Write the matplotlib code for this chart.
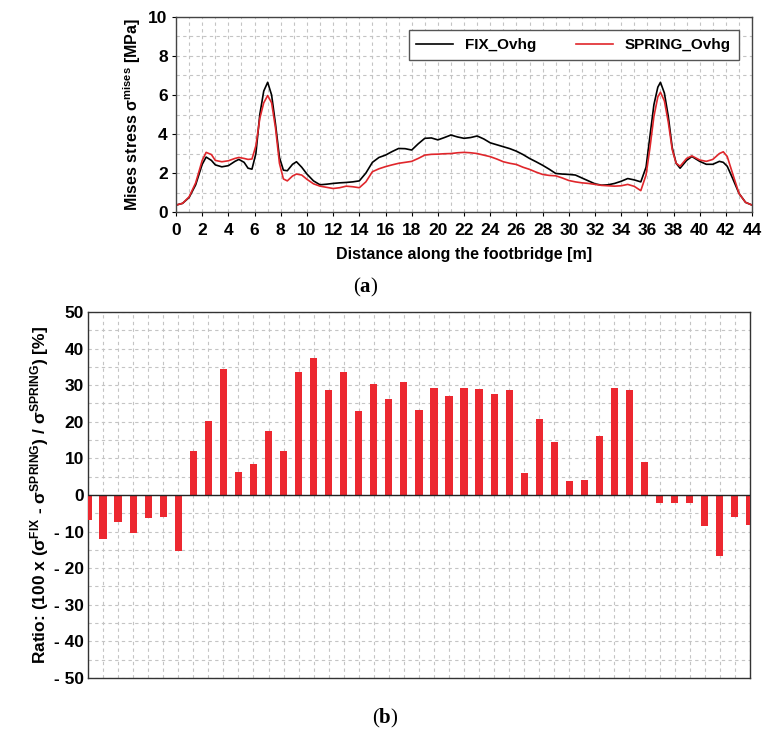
import numpy as np
import matplotlib
matplotlib.use("Agg")
import matplotlib.pyplot as plt
from matplotlib.ticker import MultipleLocator, FuncFormatter
from matplotlib.offsetbox import TextArea, HPacker, AnnotationBbox

plt.rcParams['font.family'] = ['Liberation Sans', 'DejaVu Sans']
plt.rcParams['font.weight'] = 'bold'
plt.rcParams['axes.labelweight'] = 'bold'
plt.rcParams['mathtext.fontset'] = 'custom'
plt.rcParams['mathtext.rm'] = 'Liberation Sans:bold'
plt.rcParams['mathtext.bf'] = 'Liberation Sans:bold'
plt.rcParams['mathtext.default'] = 'bf'

# von Mises stress along the deck [m] / [MPa]
distance = [0, 0.5, 1, 1.5, 2, 2.3, 2.7, 3, 3.5, 4, 4.5, 4.8, 5.2, 5.5, 5.8, 6.1,
            6.4, 6.7, 7.0, 7.3, 7.6, 7.9, 8.2, 8.5, 8.9, 9.2, 9.6, 10, 10.5, 11,
            11.5, 12, 12.5, 13, 13.5, 14, 14.5, 15, 15.5, 16, 16.5, 17, 17.5, 18,
            18.5, 19, 19.5, 20, 20.5, 21, 21.5, 22, 22.5, 23, 23.5, 24, 24.5, 25,
            25.5, 26, 26.5, 27, 27.5, 28, 28.5, 29, 29.5, 30, 30.5, 31, 31.5, 32,
            32.5, 33, 33.5, 34, 34.5, 35, 35.5, 35.9, 36.2, 36.5, 36.8, 37.0, 37.3,
            37.6, 37.9, 38.2, 38.5, 39, 39.4, 40, 40.5, 41, 41.5, 41.8, 42.1, 42.5,
            43, 43.5, 44]

fix_ovhg = [0.36, 0.45, 0.75, 1.4, 2.45, 2.82, 2.65, 2.42, 2.32, 2.38, 2.6, 2.7,
            2.55, 2.25, 2.2, 3.0, 5.0, 6.2, 6.65, 6.0, 4.5, 2.8, 2.15, 2.12, 2.45,
            2.58, 2.3, 1.95, 1.6, 1.4, 1.43, 1.47, 1.5, 1.52, 1.55, 1.6, 2.0, 2.55,
            2.8, 2.92, 3.1, 3.26, 3.25, 3.18, 3.5, 3.78, 3.8, 3.7, 3.82, 3.95, 3.85,
            3.78, 3.82, 3.9, 3.75, 3.55, 3.45, 3.35, 3.25, 3.12, 2.95, 2.75, 2.58,
            2.4, 2.2, 1.98, 1.95, 1.93, 1.9, 1.75, 1.6, 1.45, 1.38, 1.4, 1.47, 1.58,
            1.72, 1.65, 1.55, 2.3, 3.9, 5.5, 6.4, 6.65, 6.1, 4.9, 3.3, 2.5, 2.25,
            2.65, 2.85, 2.6, 2.45, 2.45, 2.6, 2.55, 2.35, 1.75, 0.96, 0.5, 0.36]

spring_ovhg = [0.36, 0.45, 0.78, 1.5, 2.65, 3.06, 2.95, 2.65, 2.58, 2.63, 2.75, 2.8,
               2.75, 2.7, 2.72, 3.4, 4.8, 5.6, 5.97, 5.6, 4.3, 2.5, 1.7, 1.6, 1.85,
               1.95, 1.9, 1.68, 1.45, 1.33, 1.27, 1.21, 1.25, 1.33, 1.3, 1.25, 1.55,
               2.07, 2.22, 2.33, 2.42, 2.5, 2.55, 2.6, 2.75, 2.92, 2.96, 2.97, 2.99,
               3.0, 3.04, 3.06, 3.04, 3.0, 2.92, 2.84, 2.72, 2.58, 2.5, 2.44, 2.3,
               2.19, 2.05, 1.93, 1.88, 1.86, 1.75, 1.62, 1.55, 1.5, 1.47, 1.42, 1.37,
               1.35, 1.33, 1.35, 1.42, 1.32, 1.1, 1.9, 3.3, 4.9, 5.9, 6.14, 5.7, 4.6,
               3.2, 2.5, 2.35, 2.75, 2.88, 2.67, 2.6, 2.7, 3.0, 3.09, 2.85, 2.0, 0.96,
               0.5, 0.36]

# stress ratio per metre station [%]
stations = np.arange(45)
ratio = [-6.8, -12.0, -7.5, -10.4, -6.3, -6.1, -15.2, 11.9, 20.2, 34.4, 6.3, 8.5,
         17.5, 12.0, 33.5, 37.3, 28.7, 33.5, 23.0, 30.3, 26.1, 30.9, 23.3, 29.3,
         27.1, 29.3, 28.9, 27.6, 28.7, 6.1, 20.7, 14.5, 3.9, 4.1, 16.2, 29.2, 28.7,
         9.1, -2.1, -2.1, -2.1, -8.4, -16.8, -6.1, -8.1]

grid_kw = dict(color='#c4c4c4', linestyle=(0, (3, 3)), linewidth=0.8)

fig = plt.figure(figsize=(7.62, 7.34), dpi=100)

# (a) stress curves
ax1 = fig.add_axes([0.231, 0.711, 0.756, 0.266])
ax1.plot(distance, fix_ovhg, color='black', lw=1.2, label='FIX_Ovhg')
ax1.plot(distance, spring_ovhg, color='#e0262b', lw=1.2, label='SPRING_Ovhg')
ax1.set_xlim(0, 44)
ax1.set_ylim(0, 10)
ax1.xaxis.set_major_locator(MultipleLocator(2))
ax1.xaxis.set_minor_locator(MultipleLocator(1))
ax1.yaxis.set_major_locator(MultipleLocator(2))
ax1.yaxis.set_minor_locator(MultipleLocator(1))
ax1.grid(True, which='both', **grid_kw)
ax1.tick_params(which='major', direction='out', length=3, width=0.8,
                labelsize=12.5, pad=3)
ax1.tick_params(axis='x', pad=5)
ax1.tick_params(which='minor', length=0)
for s in ax1.spines.values():
    s.set_color('#444444')
    s.set_linewidth(1.0)
ax1.set_xlabel('Distance along the footbridge [m]', fontsize=11.5, labelpad=6)
ax1.set_ylabel(r'Mises stress σ$^{mises}$ [MPa]', fontsize=11.5, labelpad=4)
ax1.legend(loc='upper right', bbox_to_anchor=(0.99, 0.97), ncol=2,
           fancybox=False, edgecolor='#555555', framealpha=1,
           prop={'size': 11, 'weight': 'bold'}, handlelength=2.4,
           columnspacing=2.6, borderpad=0.5)

# (b) ratio bars
ax2 = fig.add_axes([0.1155, 0.0763, 0.8685, 0.4987])
ax2.bar(stations, ratio, width=0.48, color='#ec2830', zorder=3)
ax2.axhline(0, color='#222222', lw=1.0, zorder=4)
ax2.set_xlim(0, 44)
ax2.set_ylim(-50, 50)
ax2.set_xticks(stations)
ax2.set_xticklabels([])
ax2.yaxis.set_major_locator(MultipleLocator(10))
ax2.yaxis.set_minor_locator(MultipleLocator(5))
ax2.yaxis.set_major_formatter(FuncFormatter(lambda v, p: f'{int(v)}'.replace('-', '- ')))
ax2.grid(True, which='both', zorder=0, **grid_kw)
ax2.tick_params(which='both', length=0, labelsize=12.5, pad=3)
for s in ax2.spines.values():
    s.set_color('#333333')
    s.set_linewidth(1.0)
ax2.set_ylabel(r'Ratio: (100 x (σ$^{FIX}$ - σ$^{SPRING}$) / σ$^{SPRING}$) [%]',
               fontsize=12.5, labelpad=2)


def caption(letter, x, y):
    serif = dict(family='Liberation Serif', size=15, weight='normal')
    parts = [TextArea('(', textprops=serif),
             TextArea(letter, textprops=dict(serif, weight='bold')),
             TextArea(')', textprops=serif)]
    box = HPacker(children=parts, pad=0, sep=0, align='baseline')
    fig.add_artist(AnnotationBbox(box, (x, y), xycoords='figure fraction',
                                  frameon=False))


caption('a', 365 / 762, 1 - 287 / 734)
caption('b', 385 / 762, 1 - 718 / 734)

fig.savefig('out.png', dpi=100)
